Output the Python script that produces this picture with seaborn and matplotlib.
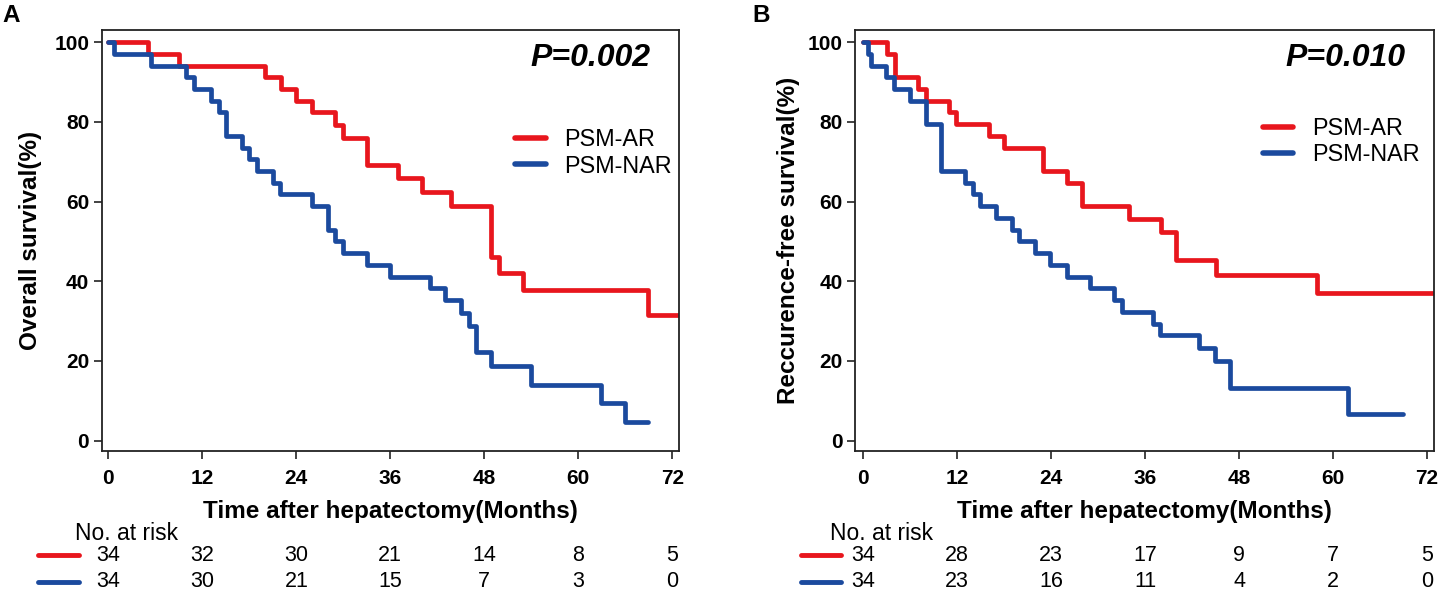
import numpy as np
import pandas as pd
import matplotlib
matplotlib.use("Agg")
import matplotlib.pyplot as plt
from matplotlib.lines import Line2D
import seaborn as sns

# Kaplan-Meier steps (months, survival %)
os_ar_time = [0, 5.1, 9.0, 20.0, 22.0, 24.0, 26.0, 28.9, 29.9, 33.0, 37.0, 40.0,
              43.8, 48.9, 49.9, 52.9, 68.9, 74.0]
os_ar_surv = [100, 97.1, 94.1, 91.2, 88.2, 85.3, 82.4, 79.2, 76.0, 69.3, 66.0, 62.5,
              58.9, 46.2, 42.0, 37.9, 31.6, 31.6]
os_nar_time = [0, 0.7, 5.5, 9.9, 10.9, 13.1, 14.1, 15.0, 17.0, 18.0, 19.0, 21.0, 21.9,
               26.0, 28.0, 28.9, 30.0, 33.0, 36.0, 41.1, 43.0, 45.0, 46.0, 47.0, 48.9,
               53.9, 62.9, 66.0, 68.9]
os_nar_surv = [100, 97.1, 94.1, 91.2, 88.2, 85.3, 82.4, 76.5, 73.5, 70.6, 67.6, 64.7, 61.8,
               58.8, 52.9, 50.0, 47.1, 44.2, 41.2, 38.3, 35.2, 32.0, 28.9, 22.3, 18.7,
               14.0, 9.4, 4.7, 4.7]

rfs_ar_time = [0, 3.0, 4.0, 7.0, 8.0, 11.0, 11.9, 16.0, 18.0, 22.9, 26.0, 28.0, 34.0,
               38.0, 40.0, 45.0, 57.9, 74.0]
rfs_ar_surv = [100, 97.1, 91.2, 88.2, 85.3, 82.4, 79.4, 76.5, 73.5, 67.6, 64.7, 58.8, 55.6,
               52.4, 45.4, 41.6, 37.0, 37.0]
rfs_nar_time = [0, 0.6, 1.0, 2.9, 3.9, 6.0, 8.0, 9.9, 13.0, 14.0, 14.9, 17.0, 19.0, 19.9,
                21.9, 23.9, 26.0, 29.0, 32.0, 33.0, 37.0, 37.9, 42.9, 44.9, 46.9, 61.9, 68.9]
rfs_nar_surv = [100, 97.1, 94.1, 91.2, 88.2, 85.3, 79.4, 67.6, 64.7, 61.8, 58.8, 55.9, 52.9,
                50.0, 47.1, 44.1, 41.2, 38.3, 35.3, 32.4, 29.4, 26.6, 23.3, 20.0, 13.3, 6.7, 6.7]

groups = ["PSM-AR", "PSM-NAR"]
risk_times = [0, 12, 24, 36, 48, 60, 72]
os_risk_ar = [34, 32, 30, 21, 14, 8, 5]
os_risk_nar = [34, 30, 21, 15, 7, 3, 0]
rfs_risk_ar = [34, 28, 23, 17, 9, 7, 5]
rfs_risk_nar = [34, 23, 16, 11, 4, 2, 0]
yticks = [0, 20, 40, 60, 80, 100]

RED = "#E8161D"
BLUE = "#1B4A9E"
W, H = 1438, 590

sns.set_style("ticks")
plt.rcParams["font.family"] = ["Liberation Sans", "DejaVu Sans"]
plt.rcParams.update({"text.color": "black", "axes.labelcolor": "black",
                     "xtick.color": "black", "ytick.color": "black"})


def km_frame(t_ar, s_ar, t_nar, s_nar):
    a = pd.DataFrame({"time": t_ar, "surv": s_ar, "group": groups[0]})
    b = pd.DataFrame({"time": t_nar, "surv": s_nar, "group": groups[1]})
    return pd.concat([a, b], ignore_index=True)


def draw_panel(ax, df, xlim, ylabel, pval, risk_ar, risk_nar, leg_anchor, label_x):
    sns.lineplot(data=df, x="time", y="surv", hue="group", palette=[RED, BLUE],
                 estimator=None, sort=False, drawstyle="steps-post", lw=3.4, ax=ax)
    ax.set_xlim(*xlim)
    ax.set_ylim(-2.6, 103.1)
    ax.set_xticks(risk_times)
    ax.set_yticks(yticks)
    for lab in ax.get_xticklabels() + ax.get_yticklabels():
        lab.set_fontweight("bold")
        lab.set_fontsize(15)
    ax.tick_params(axis="x", length=6, width=1.2, pad=7, color="#222222")
    ax.tick_params(axis="y", length=6, width=1.2, pad=3, color="#222222")
    for sp in ax.spines.values():
        sp.set_visible(True)
        sp.set_linewidth(1.3)
        sp.set_color("#222222")
    ax.set_xlabel("Time after hepatectomy(Months)", fontsize=17.5, fontweight="bold")
    ax.set_ylabel(ylabel, fontsize=17.5, fontweight="bold")
    ax.xaxis.set_label_coords(0.5, -0.116)
    ax.yaxis.set_label_coords(label_x, 0.5)

    ax.text(0.95, 0.933, pval, transform=ax.transAxes, ha="right", va="center",
            fontsize=23, fontweight="bold", fontstyle="italic")

    handles = [Line2D([], [], color=RED, lw=4), Line2D([], [], color=BLUE, lw=4)]
    ax.legend(handles, groups, loc="upper left", bbox_to_anchor=leg_anchor,
              frameon=False, fontsize=16.8, handlelength=1.32, handletextpad=0.8,
              labelspacing=0.15, borderpad=0, borderaxespad=0)

    tr = ax.get_xaxis_transform()
    for t, n1, n2 in zip(risk_times, risk_ar, risk_nar):
        ax.text(t, -0.249, str(n1), transform=tr, ha="center", va="center",
                fontsize=15.5, clip_on=False)
        ax.text(t, -0.309, str(n2), transform=tr, ha="center", va="center",
                fontsize=15.5, clip_on=False)


fig = plt.figure(figsize=(W / 100, H / 100), dpi=100)
ax_a = fig.add_axes([101.7 / W, 0.2356, 577.3 / W, 0.7136])
ax_b = fig.add_axes([855 / W, 0.2356, 579 / W, 0.7136])

draw_panel(ax_a, km_frame(os_ar_time, os_ar_surv, os_nar_time, os_nar_surv),
           (-0.85, 72.86), "Overall survival(%)", "P=0.002",
           os_risk_ar, os_risk_nar, (0.716, 0.767), -0.103)
draw_panel(ax_b, km_frame(rfs_ar_time, rfs_ar_surv, rfs_nar_time, rfs_nar_surv),
           (-1.06, 72.9), "Reccurence-free survival(%)", "P=0.010",
           rfs_risk_ar, rfs_risk_nar, (0.704, 0.794), -0.095)

# panel letters, "No. at risk" headers and the colour keys of the risk table
for x0, letter in [(2, "A"), (752, "B")]:
    fig.text(x0 / W, 1 - 15 / H, letter, fontsize=17.5, fontweight="bold", va="center")
for x0, lx0, lx1 in [(75, 38, 79), (830, 801, 841)]:
    fig.text(x0 / W, 1 - 533 / H, "No. at risk", fontsize=16.5, va="center")
    fig.add_artist(Line2D([lx0 / W, lx1 / W], [1 - 555 / H] * 2, color=RED, lw=3.5))
    fig.add_artist(Line2D([lx0 / W, lx1 / W], [1 - 582 / H] * 2, color=BLUE, lw=3.5))

fig.savefig("out.png", dpi=100)
